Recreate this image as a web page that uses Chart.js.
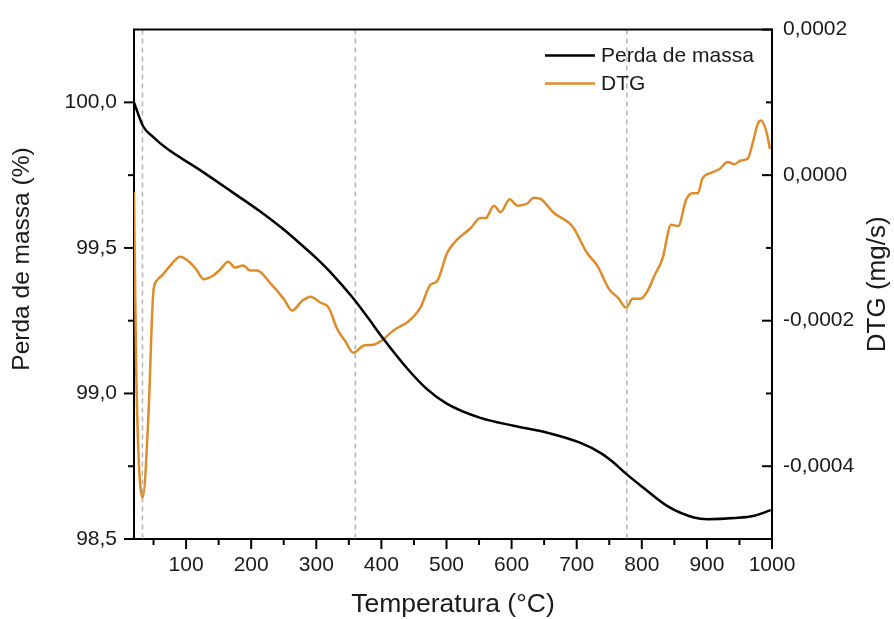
<!DOCTYPE html>
<html>
<head>
<meta charset="utf-8">
<script src="https://cdn.jsdelivr.net/npm/chart.js@4.4.1/dist/chart.umd.min.js"></script>
<style>
  body { margin: 0; background: #fff; }
  #chart { display: block; }
</style>
</head>
<body>
<canvas id="chart" width="894" height="619"></canvas>
<script>
// curva TG (perda de massa)
const tempMass = [20, 34, 48, 70, 121, 172, 214, 250, 275, 300, 322, 357, 380, 403, 440, 470, 501, 552, 603, 655, 706, 737, 757, 777, 802, 840, 880, 901, 942, 973, 998];
const massLoss = [100.0, 99.918, 99.884, 99.842, 99.768, 99.690, 99.625, 99.563, 99.515, 99.465, 99.416, 99.326, 99.258, 99.188, 99.085, 99.015, 98.964, 98.916, 98.889, 98.865, 98.830, 98.795, 98.762, 98.722, 98.677, 98.612, 98.574, 98.568, 98.572, 98.580, 98.599];

// curva DTG (mg/s)
const tempDtg = [20, 23, 26.7, 33.4, 42, 49.7, 55, 65, 75, 91, 106, 116, 127, 140, 152, 165, 175, 188, 198, 209, 229, 250, 263, 278, 291, 306, 319, 332, 345, 357, 373, 388, 401, 419, 440, 460, 475, 486, 501, 516, 537, 552, 560, 573, 583, 597, 609, 624, 634, 645, 665, 693, 716, 732, 750, 763, 776, 786, 798, 809, 819, 832, 845, 856, 868, 878, 886, 893, 906, 919, 932, 942, 952, 963, 970, 978, 983, 991, 997];
const dtg = [-0.23e-4, -2.43e-4, -3.79e-4, -4.43e-4, -3.34e-4, -1.61e-4, -1.45e-4, -1.36e-4, -1.25e-4, -1.12e-4, -1.20e-4, -1.30e-4, -1.43e-4, -1.39e-4, -1.30e-4, -1.19e-4, -1.27e-4, -1.24e-4, -1.31e-4, -1.31e-4, -1.48e-4, -1.70e-4, -1.86e-4, -1.73e-4, -1.67e-4, -1.75e-4, -1.82e-4, -2.11e-4, -2.29e-4, -2.44e-4, -2.34e-4, -2.33e-4, -2.27e-4, -2.13e-4, -2.02e-4, -1.82e-4, -1.51e-4, -1.45e-4, -1.07e-4, -0.89e-4, -0.73e-4, -0.59e-4, -0.59e-4, -0.42e-4, -0.51e-4, -0.33e-4, -0.42e-4, -0.39e-4, -0.31e-4, -0.33e-4, -0.52e-4, -0.70e-4, -1.07e-4, -1.25e-4, -1.57e-4, -1.68e-4, -1.82e-4, -1.70e-4, -1.70e-4, -1.59e-4, -1.39e-4, -1.14e-4, -0.68e-4, -0.70e-4, -0.34e-4, -0.25e-4, -0.25e-4, -0.05e-4, 0.03e-4, 0.08e-4, 0.18e-4, 0.15e-4, 0.20e-4, 0.23e-4, 0.43e-4, 0.70e-4, 0.75e-4, 0.61e-4, 0.36e-4];

// linhas tracejadas nos picos
const peakTemps = [33, 360, 777];

// ticks
const tempMajor = [100, 200, 300, 400, 500, 600, 700, 800, 900, 1000];
const tempMinor = [50, 150, 250, 350, 450, 550, 650, 750, 850, 950];
const massMajor = [98.5, 99.0, 99.5, 100.0];
const massLabels = ['98,5', '99,0', '99,5', '100,0'];
const massMinor = [98.75, 99.25, 99.75];
const dtgMajor = [-4e-4, -2e-4, 0, 2e-4];
const dtgLabels = ['-0,0004', '-0,0002', '0,0000', '0,0002'];
const dtgMinor = [-3e-4, -1e-4, 1e-4];

const orange = '#de8b2a';
const fontFam = '"Liberation Sans", Arial, sans-serif';

function toPoints(xs, ys) {
  return xs.map(function (x, i) { return { x: x, y: ys[i] }; });
}
function setTicks(major, minor) {
  return function (scale) {
    scale.ticks = major.concat(minor).sort(function (a, b) { return a - b; }).map(function (v) { return { value: v }; });
  };
}

const dashedLines = {
  id: 'dashedLines',
  beforeDatasetsDraw(chart) {
    const { ctx, chartArea: a, scales } = chart;
    ctx.save();
    ctx.strokeStyle = '#b4b4b4';
    ctx.lineWidth = 1.5;
    ctx.setLineDash([5, 4]);
    peakTemps.forEach(function (t) {
      const px = scales.x.getPixelForValue(t);
      ctx.beginPath();
      ctx.moveTo(px, a.top);
      ctx.lineTo(px, a.bottom);
      ctx.stroke();
    });
    ctx.restore();
  }
};

function vText(ctx, txt, x, y, size) {
  ctx.save();
  ctx.translate(x, y);
  ctx.rotate(-Math.PI / 2);
  ctx.textAlign = 'center';
  ctx.textBaseline = 'middle';
  ctx.font = size + 'px ' + fontFam;
  ctx.fillStyle = '#1a1a1a';
  ctx.fillText(txt, 0, 0);
  ctx.restore();
}

const frame = {
  id: 'frame',
  afterDraw(chart) {
    const { ctx, chartArea: a, scales } = chart;
    ctx.save();
    ctx.strokeStyle = '#000';
    // borda superior
    ctx.lineWidth = 2;
    ctx.beginPath();
    ctx.moveTo(a.left - 1, a.top);
    ctx.lineTo(a.right + 1, a.top);
    ctx.stroke();

    function mark(x1, y1, x2, y2) {
      ctx.beginPath(); ctx.moveTo(x1, y1); ctx.lineTo(x2, y2); ctx.stroke();
    }
    scales.x.ticks.forEach(function (t) {
      const px = scales.x.getPixelForValue(t.value);
      mark(px, a.bottom, px, a.bottom + (t.label ? 10 : 6));
    });
    scales.y.ticks.forEach(function (t) {
      const py = scales.y.getPixelForValue(t.value);
      mark(a.left, py, a.left - (t.label ? 10 : 6), py);
    });
    scales.y2.ticks.forEach(function (t) {
      const py = scales.y2.getPixelForValue(t.value);
      mark(a.right, py, a.right - (t.label ? 10 : 6), py);
    });

    // legenda
    ctx.font = '21px ' + fontFam;
    ctx.textBaseline = 'middle';
    ctx.textAlign = 'left';
    chart.data.datasets.forEach(function (ds, i) {
      const y = a.top + 26 + i * 28;
      ctx.strokeStyle = ds.borderColor;
      ctx.lineWidth = 2.5;
      mark(a.right - 227, y, a.right - 177, y);
      ctx.fillStyle = '#1a1a1a';
      ctx.fillText(ds.label, a.right - 171, y + 1);
    });
    ctx.restore();

    // titulos dos eixos verticais
    vText(ctx, 'Perda de massa (%)', 22, 259, 24.5);
    vText(ctx, 'DTG (mg/s)', 878, (a.top + a.bottom) / 2, 26);
  }
};

new Chart(document.getElementById('chart'), {
  type: 'line',
  data: {
    datasets: [{
      label: 'Perda de massa',
      data: toPoints(tempMass, massLoss),
      yAxisID: 'y',
      borderColor: '#000',
      borderWidth: 2.5,
      pointRadius: 0,
      cubicInterpolationMode: 'monotone'
    }, {
      label: 'DTG',
      data: toPoints(tempDtg, dtg),
      yAxisID: 'y2',
      borderColor: orange,
      borderWidth: 2.5,
      pointRadius: 0,
      cubicInterpolationMode: 'monotone'
    }]
  },
  options: {
    responsive: false,
    animation: false,
    layout: { padding: { top: 25 } },
    plugins: { legend: { display: false }, tooltip: { enabled: false } },
    scales: {
      x: {
        type: 'linear',
        min: 20, max: 1000,
        afterBuildTicks: setTicks(tempMajor, tempMinor),
        afterFit: function (s) { s.height = 80; },
        grid: { display: false, drawTicks: false },
        border: { display: true, color: '#000', width: 2 },
        ticks: {
          autoSkip: false, maxRotation: 0, padding: 14, color: '#1a1a1a',
          font: { family: fontFam, size: 21 },
          callback: function (v) { return tempMajor.indexOf(v) >= 0 ? String(v) : ''; }
        },
        title: {
          display: true, text: 'Temperatura (°C)', color: '#1a1a1a',
          font: { family: fontFam, size: 26.5, lineHeight: 1 },
          padding: { top: 0, bottom: 1 }
        }
      },
      y: {
        position: 'left',
        min: 98.5, max: 100.25,
        afterBuildTicks: setTicks(massMajor, massMinor),
        afterFit: function (s) { s.width = 134; },
        grid: { display: false, drawTicks: false },
        border: { display: true, color: '#000', width: 2 },
        ticks: {
          autoSkip: false, padding: 17, color: '#1a1a1a',
          font: { family: fontFam, size: 21 },
          callback: function (v) { const i = massMajor.indexOf(v); return i >= 0 ? massLabels[i] : ''; }
        }
      },
      y2: {
        position: 'right',
        min: -5e-4, max: 2e-4,
        afterBuildTicks: setTicks(dtgMajor, dtgMinor),
        afterFit: function (s) { s.width = 122; },
        grid: { display: false, drawTicks: false },
        border: { display: true, color: '#000', width: 2 },
        ticks: {
          autoSkip: false, padding: 11, color: '#1a1a1a',
          font: { family: fontFam, size: 21 },
          callback: function (v) { const i = dtgMajor.indexOf(v); return i >= 0 ? dtgLabels[i] : ''; }
        }
      }
    }
  },
  plugins: [dashedLines, frame]
});
</script>
</body>
</html>
